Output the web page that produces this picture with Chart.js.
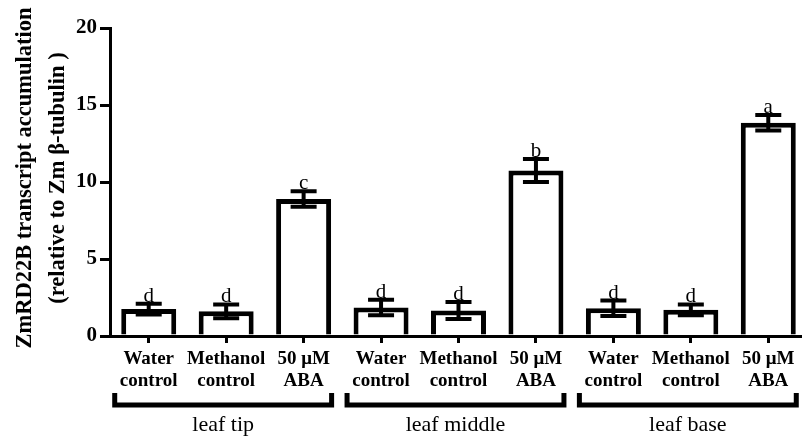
<!DOCTYPE html>
<html>
<head>
<meta charset="utf-8">
<script src="https://cdn.jsdelivr.net/npm/chart.js@4.4.1/dist/chart.umd.min.js"></script>
<style>
  html, body { margin: 0; padding: 0; background: #fff; overflow: hidden; }
  #wrap { width: 807px; height: 437px; }
</style>
</head>
<body>
<div id="wrap"><canvas id="chart"></canvas></div>
<script>
// data
const categories = [
  ["Water", "control"], ["Methanol", "control"], ["50 \u03bcM", "ABA"],
  ["Water", "control"], ["Methanol", "control"], ["50 \u03bcM", "ABA"],
  ["Water", "control"], ["Methanol", "control"], ["50 \u03bcM", "ABA"]
];
const means = [1.75, 1.6, 8.9, 1.85, 1.65, 10.75, 1.8, 1.7, 13.85];
const errors = [0.35, 0.45, 0.5, 0.5, 0.55, 0.75, 0.5, 0.35, 0.5];
const letters = ["d", "d", "c", "d", "d", "b", "d", "d", "a"];
const groups = ["leaf tip", "leaf middle", "leaf base"];
const groupStart = [0, 3, 6];
const groupEnd = [2, 5, 8];
const yTicks = [0, 5, 10, 15, 20];

const serif = "'Liberation Serif', 'Times New Roman', serif";

// error bars, letters, brackets, axis title
const extras = {
  id: "extras",
  afterDatasetsDraw(chart) {
    const ctx = chart.ctx;
    const x = chart.scales.x, y = chart.scales.y;
    const area = chart.chartArea;
    ctx.save();
    ctx.strokeStyle = "#000";
    ctx.fillStyle = "#000";
    ctx.lineCap = "butt";

    means.forEach((m, i) => {
      const cx = x.getPixelForValue(i);
      const top = y.getPixelForValue(m + errors[i]);
      const bot = y.getPixelForValue(m - errors[i]);
      ctx.lineWidth = 4;
      ctx.beginPath();
      ctx.moveTo(cx, top); ctx.lineTo(cx, bot);
      ctx.moveTo(cx - 13, top); ctx.lineTo(cx + 13, top);
      ctx.moveTo(cx - 13, bot); ctx.lineTo(cx + 13, bot);
      ctx.stroke();

      ctx.font = "21px " + serif;
      ctx.textAlign = "center";
      ctx.textBaseline = "alphabetic";
      ctx.fillText(letters[i], cx, top - 2);
    });

    // group brackets
    groups.forEach((g, k) => {
      const l = x.getPixelForValue(groupStart[k]) - 34;
      const r = x.getPixelForValue(groupEnd[k]) + 28;
      const yb = area.bottom + 69;
      ctx.lineWidth = 5;
      ctx.lineJoin = "miter";
      ctx.beginPath();
      ctx.moveTo(l, yb - 12); ctx.lineTo(l, yb); ctx.lineTo(r, yb); ctx.lineTo(r, yb - 12);
      ctx.stroke();
      ctx.font = "22px " + serif;
      ctx.textAlign = "center";
      ctx.textBaseline = "middle";
      ctx.fillText(g, (l + r) / 2, yb + 20);
    });

    // y axis title
    ctx.rotate(-Math.PI / 2);
    ctx.font = "bold 22.5px " + serif;
    ctx.textAlign = "center";
    ctx.textBaseline = "middle";
    ctx.fillText("ZmRD22B transcript accumulation", -178, 25);
    ctx.fillText("(relative to Zm \u03b2-tubulin )", -178, 58);
    ctx.restore();
  }
};

new Chart(document.getElementById("chart"), {
  type: "bar",
  data: {
    labels: categories,
    datasets: [{
      data: means,
      backgroundColor: "#fff",
      borderColor: "#000",
      borderWidth: 5,
      borderSkipped: "start",
      barPercentage: 0.71,
      categoryPercentage: 1.0
    }]
  },
  options: {
    responsive: true,
    maintainAspectRatio: false,
    animation: false,
    layout: { padding: { top: 28, left: 0, right: 0, bottom: 0 } },
    plugins: { legend: { display: false }, tooltip: { enabled: false } },
    scales: {
      x: {
        afterFit(axis) { axis.height = 101; },
        grid: {
          offset: false,
          drawOnChartArea: false,
          tickLength: 7,
          lineWidth: 3,
          color: "#000"
        },
        border: { display: true, color: "#000", width: 3 },
        ticks: {
          color: "#000",
          padding: 5,
          maxRotation: 0,
          autoSkip: false,
          font: { family: serif, size: 19, weight: "bold", lineHeight: 1.15 }
        }
      },
      y: {
        min: 0,
        max: 20,
        afterFit(axis) { axis.width = 110; },
        afterBuildTicks(axis) { axis.ticks = yTicks.map(v => ({ value: v })); },
        grid: {
          drawOnChartArea: false,
          tickLength: 10,
          lineWidth: 3,
          color: "#000"
        },
        border: { display: true, color: "#000", width: 3 },
        ticks: {
          color: "#000",
          padding: 3,
          font: { family: serif, size: 21, weight: "bold" }
        }
      }
    }
  },
  plugins: [extras]
});
</script>
</body>
</html>
